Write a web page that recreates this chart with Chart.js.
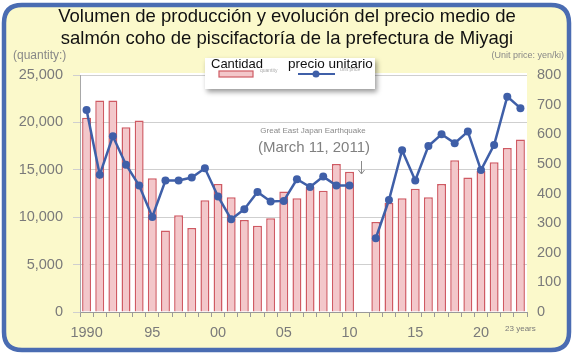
<!DOCTYPE html>
<html>
<head>
<meta charset="utf-8">
<script src="https://cdn.jsdelivr.net/npm/chart.js@4"></script>
<style>
html,body{margin:0;padding:0;background:#ffffff;}
#wrap{width:574px;height:356px;position:relative;}
</style>
</head>
<body>
<div id="wrap"><canvas id="c" width="574" height="356"></canvas></div>
<script>
const years = ['1990','1991','1992','1993','1994','1995','1996','1997','1998','1999','2000','2001','2002','2003','2004','2005','2006','2007','2008','2009','2010','2011','2012','2013','2014','2015','2016','2017','2018','2019','2020','2021','2022','2023'];
const quantity = [20500,22300,22300,19500,20200,14100,8600,10200,8850,11800,13500,12100,9700,9100,9900,12700,12000,13200,12800,15600,14800,null,9500,11500,12000,13000,12100,13500,16000,14200,14900,15800,17300,18200];
const unitPrice = [682,463,593,497,427,321,444,444,454,485,390,313,347,405,373,375,448,422,457,427,427,null,249,378,546,444,560,600,570,609,479,564,727,688];
const tickYears = ['1990','1995','2000','2005','2010','2015','2020','2023'];
const tickTexts = ['1990','95','00','05','10','15','20','23 years'];
const titleLines = ['Volumen de producción y evolución del precio medio de','salmón coho de piscifactoría de la prefectura de Miyagi'];
const seriesNames = ['Cantidad','precio unitario'];

const FONT = "'Liberation Sans', Arial, sans-serif";
const GRAY = '#7a7a7a';

function roundRect(ctx,x,y,w,h,r){
  ctx.beginPath();
  ctx.moveTo(x+r,y);
  ctx.lineTo(x+w-r,y);
  ctx.quadraticCurveTo(x+w,y,x+w,y+r);
  ctx.lineTo(x+w,y+h-r);
  ctx.quadraticCurveTo(x+w,y+h,x+w-r,y+h);
  ctx.lineTo(x+r,y+h);
  ctx.quadraticCurveTo(x,y+h,x,y+h-r);
  ctx.lineTo(x,y+r);
  ctx.quadraticCurveTo(x,y,x+r,y);
  ctx.closePath();
}

const bgPlugin = {
  id:'bg',
  beforeDraw(chart){
    const ctx = chart.ctx, a = chart.chartArea;
    ctx.save();
    ctx.fillStyle='#ffffff';
    ctx.fillRect(0,0,chart.width,chart.height);
    roundRect(ctx,4,5,565,345,18);
    ctx.fillStyle='#fbf9cb';
    ctx.fill();
    ctx.lineWidth=4.5;
    ctx.strokeStyle='#4a6cb2';
    ctx.stroke();
    ctx.fillStyle='#ffffff';
    ctx.fillRect(a.left,a.top-2,a.right-a.left,a.bottom-a.top+2);
    ctx.restore();
  },
  afterDraw(chart){
    const ctx = chart.ctx;
    ctx.save();
    // axis titles
    ctx.fillStyle='#888';
    ctx.textBaseline='middle';
    ctx.font='12px '+FONT;
    ctx.textAlign='left';
    ctx.fillText('(quantity:)',13,56);
    ctx.font='9px '+FONT;
    ctx.textAlign='right';
    ctx.fillText('(Unit price: yen/ki)',564,56);

    // annotation
    ctx.textAlign='center';
    ctx.fillStyle='#8a8a8a';
    ctx.font='8px '+FONT;
    ctx.fillText('Great East Japan Earthquake',313,131);
    ctx.fillStyle='#808080';
    ctx.font='15px '+FONT;
    ctx.fillText('(March 11, 2011)',314,148);
    ctx.strokeStyle='#8a8a8a';
    ctx.lineWidth=1;
    ctx.beginPath();
    ctx.moveTo(361.5,161);ctx.lineTo(361.5,174);
    ctx.moveTo(358.5,170);ctx.lineTo(361.5,174);ctx.lineTo(364.5,170);
    ctx.stroke();

    // legend box
    ctx.save();
    ctx.shadowColor='rgba(0,0,0,0.4)';
    ctx.shadowBlur=5;
    ctx.shadowOffsetX=2;
    ctx.shadowOffsetY=3;
    ctx.fillStyle='#ffffff';
    ctx.fillRect(205,58,170,31);
    ctx.restore();
    ctx.fillStyle='#111';
    ctx.textAlign='left';
    ctx.font='13px '+FONT;
    ctx.fillText(seriesNames[0],211,64);
    ctx.font='13.5px '+FONT;
    ctx.fillText(seriesNames[1],288,64);
    // bar swatch
    ctx.fillStyle='#f3c7ca';
    ctx.fillRect(219,71,34,6);
    ctx.strokeStyle='#cf5a63';
    ctx.lineWidth=1.2;
    ctx.strokeRect(219,71,34,6);
    ctx.fillStyle='#aaa';
    ctx.font='5px '+FONT;
    ctx.fillText('quantity',260,71);
    ctx.fillText('unit price',340,70);
    // line swatch
    ctx.strokeStyle='#3f5fa8';
    ctx.lineWidth=2;
    ctx.beginPath();ctx.moveTo(298,74);ctx.lineTo(335,74);ctx.stroke();
    ctx.fillStyle='#3f5fa8';
    ctx.beginPath();ctx.arc(316,74,3.5,0,Math.PI*2);ctx.fill();
    ctx.restore();
  }
};

new Chart(document.getElementById('c'),{
  data:{
    labels:years,
    datasets:[
      {type:'line',label:seriesNames[1],data:unitPrice,yAxisID:'yR',order:0,
       borderColor:'#3f5fa8',backgroundColor:'#3f5fa8',borderWidth:2.5,
       pointRadius:4,pointBackgroundColor:'#3f5fa8',pointBorderWidth:0,
       spanGaps:false,tension:0},
      {type:'bar',label:seriesNames[0],data:quantity,yAxisID:'yL',order:1,
       backgroundColor:'#f3c7ca',borderColor:'#cf5a63',borderWidth:1.5,
       categoryPercentage:1,barPercentage:0.68}
    ]
  },
  options:{
    responsive:false,
    animation:false,
    layout:{padding:0},
    plugins:{
      legend:{display:false},
      tooltip:{enabled:false},
      title:{display:true,text:titleLines,color:'#111',
        font:{family:FONT,size:18.5,weight:'normal',lineHeight:1.2},
        padding:{top:6,bottom:24.6}}
    },
    scales:{
      x:{type:'category',offset:true,
        grid:{display:true,drawOnChartArea:false,offset:true,tickLength:5,color:'#9a9a9a'},
        border:{color:'#9a9a9a'},
        ticks:{autoSkip:false,maxRotation:0,minRotation:0,padding:7,color:GRAY,
          font:(c)=>({family:FONT,size:(c.index===years.length-1)?8:14.5}),
          callback:function(v,i){const y=years[i];const k=tickYears.indexOf(y);return k>=0?tickTexts[k]:'';}},
        afterFit:(s)=>{s.height=44;}
      },
      yL:{position:'left',min:0,max:25000,
        grid:{color:'#cfcfcf',tickLength:7,drawTicks:true},
        border:{color:'#a8a8a8'},
        ticks:{stepSize:5000,padding:10,color:GRAY,font:{family:FONT,size:14.5},
          callback:(v)=>v.toLocaleString('en-US')},
        afterFit:(s)=>{s.width=80;}
      },
      yR:{position:'right',min:0,max:800,
        grid:{drawOnChartArea:false,drawTicks:false},
        border:{display:false},
        ticks:{stepSize:100,padding:10,color:GRAY,font:{family:FONT,size:14.5}},
        afterFit:(s)=>{s.width=47;}
      }
    }
  },
  plugins:[bgPlugin]
});
</script>
</body>
</html>
